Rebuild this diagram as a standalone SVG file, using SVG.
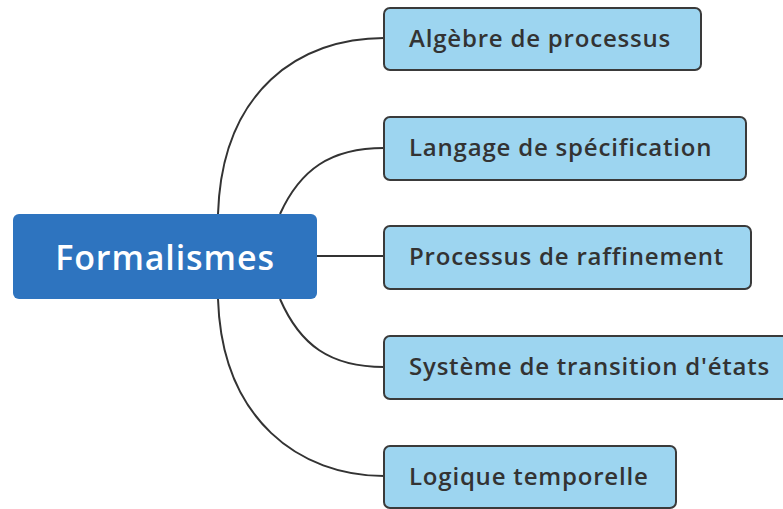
<svg xmlns="http://www.w3.org/2000/svg" width="783" height="509" viewBox="0 0 783 509">
<style>
.child rect{fill:#9dd5f0;stroke:#3a3a3a;stroke-width:2}
.child text{font-family:"Open Sans","Liberation Sans",sans-serif;font-weight:600;font-size:24px;letter-spacing:0.8px;fill:#333}
.conn path{fill:none;stroke:#333;stroke-width:2}
</style>
<rect width="783" height="509" fill="#fff"/>
<g class="conn" id="connectors">
<path d="M218,214 C222,90 300,38 384,38"/>
<path d="M280,214 C300,170 330,148 384,148"/>
<path d="M317,256 L384,256"/>
<path d="M280,299 C300,345 330,367 384,367"/>
<path d="M218,299 C222,420 300,476 384,476"/>
</g>
<g id="root">
<rect x="13" y="214" width="304" height="85" rx="6" fill="#2e74bf"/>
<text x="165" y="270" text-anchor="middle" font-family="Open Sans, Liberation Sans, sans-serif" font-weight="600" font-size="34" letter-spacing="0.9" fill="#fff">Formalismes</text>
</g>
<g class="child" id="n1"><rect x="384" y="8" width="317" height="62" rx="6"/><text x="409" y="47">Algèbre de processus</text></g>
<g class="child" id="n2"><rect x="384" y="117" width="362" height="63" rx="6"/><text x="409" y="156">Langage de spécification</text></g>
<g class="child" id="n3"><rect x="384" y="226" width="367" height="63" rx="6"/><text x="409" y="265">Processus de raffinement</text></g>
<g class="child" id="n4"><rect x="384" y="336" width="410" height="63" rx="6"/><text x="409" y="375">Système de transition d'états</text></g>
<g class="child" id="n5"><rect x="384" y="446" width="292" height="62" rx="6"/><text x="409" y="485">Logique temporelle</text></g>
</svg>
